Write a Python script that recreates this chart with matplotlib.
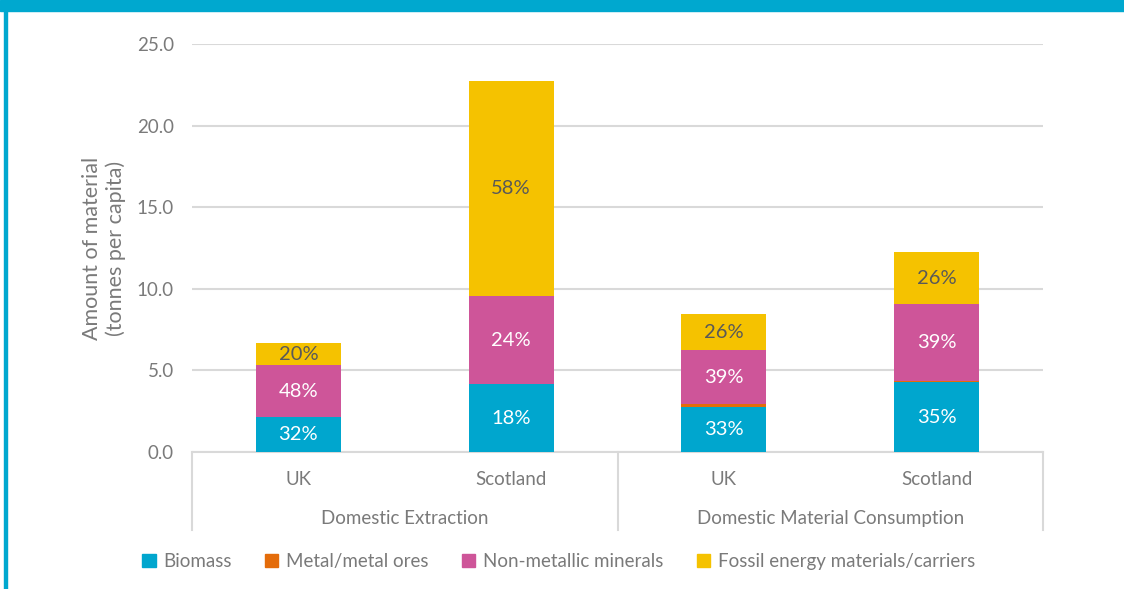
import numpy as np
import matplotlib
matplotlib.use('Agg')
import matplotlib.pyplot as plt
from matplotlib.patches import Patch, Rectangle
from matplotlib.lines import Line2D
import matplotlib.transforms as mtransforms

plt.rcParams['font.family'] = ['Lato', 'DejaVu Sans']

# tonnes per capita, split by material type
regions = ['UK', 'Scotland', 'UK', 'Scotland']
groups = ['Domestic Extraction', 'Domestic Material Consumption']
biomass = np.array([2.14, 4.15, 2.76, 4.27])
metal = np.array([0.0, 0.0, 0.18, 0.05])
non_metallic = np.array([3.18, 5.40, 3.28, 4.72])
fossil = np.array([1.36, 13.20, 2.22, 3.20])

series = [('Biomass', biomass, '#00A6CE', 'white'),
          ('Metal/metal ores', metal, '#E46C0A', None),
          ('Non-metallic minerals', non_metallic, '#CE5599', 'white'),
          ('Fossil energy materials/carriers', fossil, '#F5C200', '#595959')]

grey = '#7a7a7a'
teal = '#00A8CF'
fs = 13.5

fig = plt.figure(figsize=(11.24, 5.89), dpi=100)
ax = fig.add_axes([0.1708, 0.2326, 0.928 - 0.1708, 0.9253 - 0.2326])

x = np.arange(len(regions))
total = biomass + metal + non_metallic + fossil
bottom = np.zeros(len(regions))
for name, vals, col, txtcol in series:
    ax.bar(x, vals, 0.4, bottom=bottom, color=col, label=name, zorder=3)
    if txtcol is not None:
        for xi, b, v, t in zip(x, bottom, vals, total):
            ax.text(xi, b + v / 2, f'{round(100 * v / t):.0f}%', ha='center', va='center',
                    color=txtcol, fontsize=14.5, zorder=4)
    bottom = bottom + vals

ax.set_xlim(-0.5, len(regions) - 0.5)
ax.set_ylim(0, 25)
ax.set_yticks(np.arange(0, 26, 5))
ax.set_yticklabels([f'{v:.1f}' for v in np.arange(0, 26, 5)])
ax.yaxis.grid(True, color='#d9d9d9', linewidth=1.5, zorder=0)
ax.tick_params(axis='y', length=0, pad=13, labelsize=fs, labelcolor=grey)
ax.set_xticks([])
for s in ['top', 'right', 'left']:
    ax.spines[s].set_visible(False)
ax.spines['bottom'].set_color('#d9d9d9')
ax.spines['bottom'].set_linewidth(1.5)
ax.set_ylabel('Amount of material\n(tonnes per capita)', fontsize=15.5, color=grey,
              labelpad=8, linespacing=1.15)

# two-level category axis
trans = mtransforms.blended_transform_factory(ax.transData, ax.transAxes)
for xi, r in zip(x, regions):
    ax.text(xi, -0.068, r, transform=trans, ha='center', va='center', fontsize=fs, color=grey)
for i, g in enumerate(groups):
    ax.text(2 * i + 0.5, -0.163, g, transform=trans, ha='center', va='center', fontsize=fs, color=grey)
for xb in [-0.5, 1.5, 3.5]:
    ax.add_line(Line2D([xb, xb], [0, -0.192], transform=trans, color='#d9d9d9',
                       linewidth=1.5, clip_on=False))

handles = [Patch(color=c, label=n) for n, _, c, _ in series]
leg = fig.legend(handles=handles, loc='center', bbox_to_anchor=(0.497, 0.046), ncol=4,
                 frameon=False, fontsize=fs, handlelength=0.7, handleheight=0.7,
                 handletextpad=0.4, columnspacing=1.8)
for t in leg.get_texts():
    t.set_color(grey)

# frame band along the top and left edge
fig.add_artist(Rectangle((0, 1 - 11 / 589), 1, 11 / 589, transform=fig.transFigure,
                         color=teal, zorder=5))
fig.add_artist(Rectangle((4 / 1124, 0), 2.5 / 1124, 1, transform=fig.transFigure,
                         color=teal, zorder=5))

fig.savefig('out.png', dpi=100)
